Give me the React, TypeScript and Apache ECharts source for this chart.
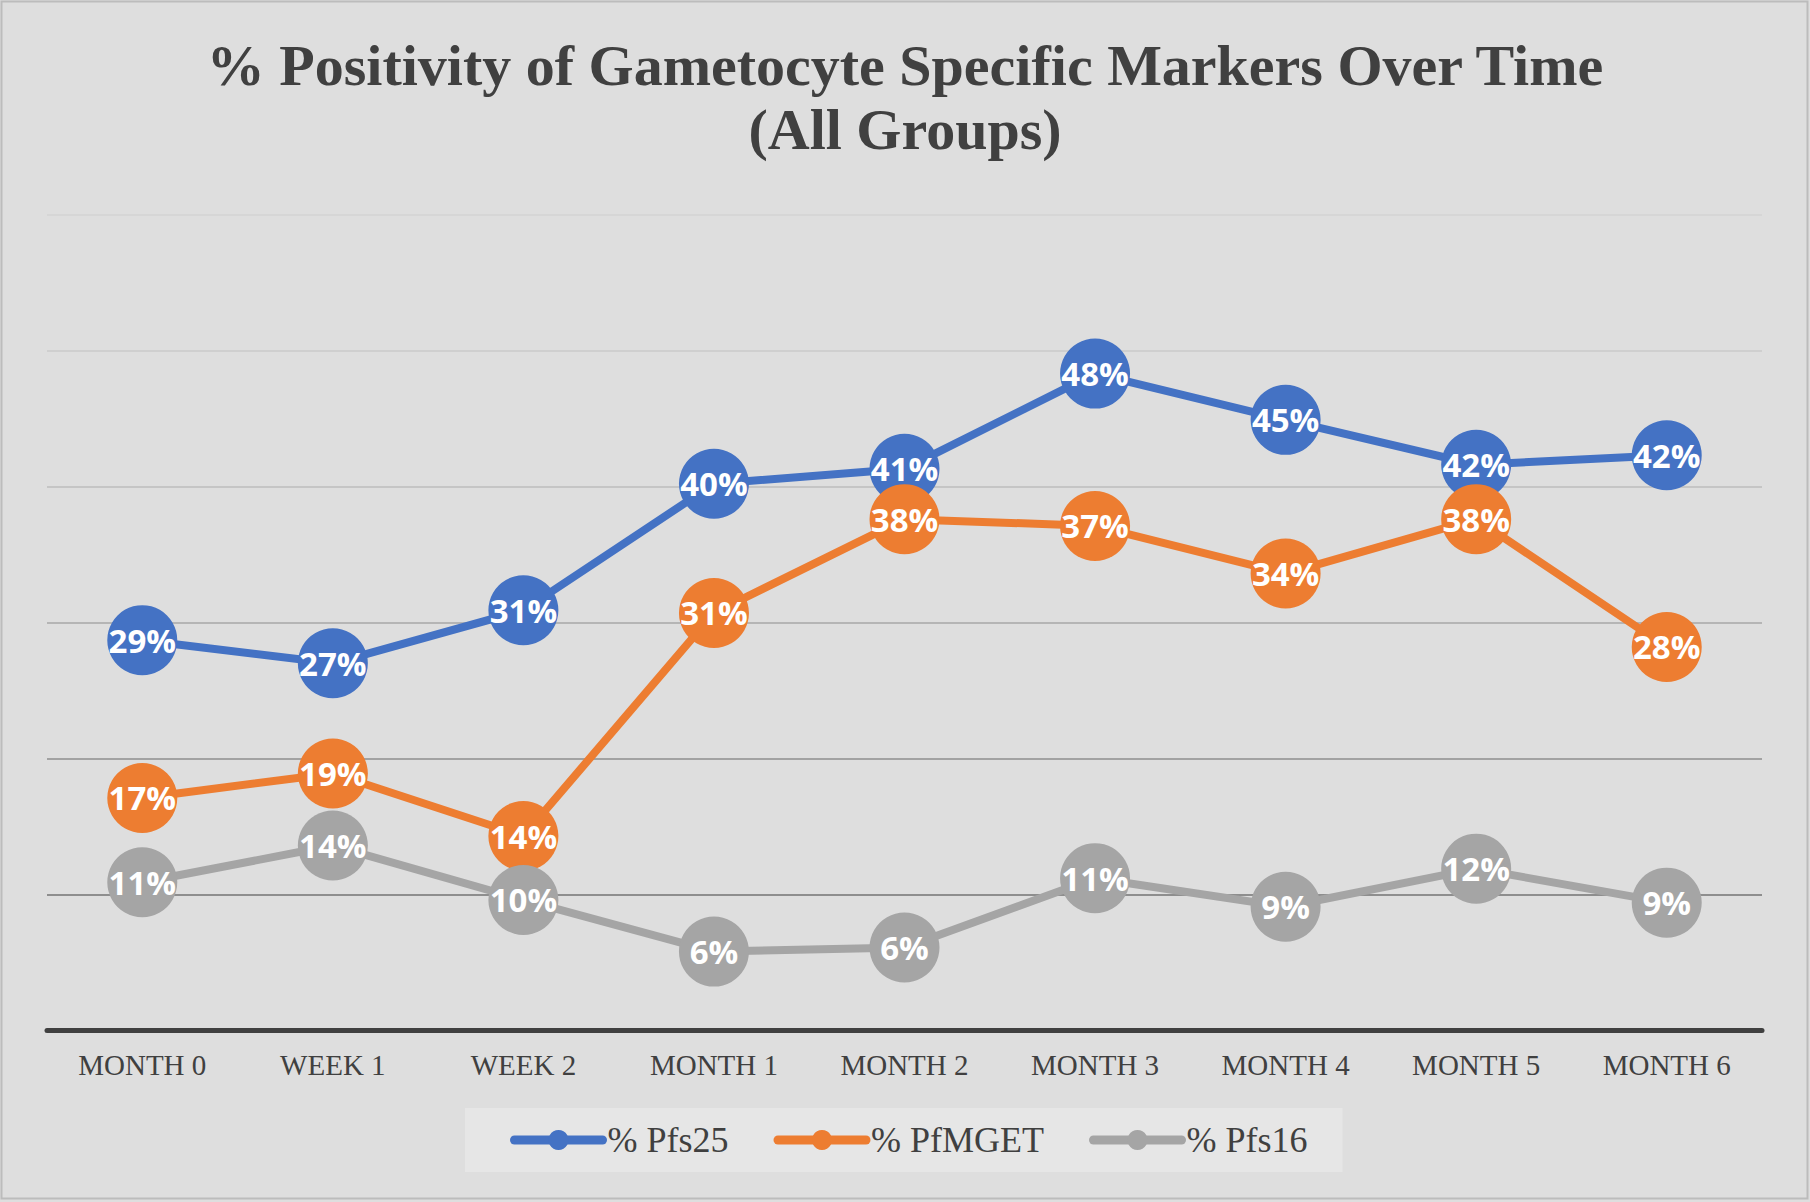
import React, { useEffect, useRef } from 'react';
import * as echarts from 'echarts';

const categories = ['MONTH 0', 'WEEK 1', 'WEEK 2', 'MONTH 1', 'MONTH 2', 'MONTH 3', 'MONTH 4', 'MONTH 5', 'MONTH 6'];
const pfs25 = [28.7, 27.0, 30.9, 40.2, 41.3, 48.3, 44.9, 41.6, 42.3];
const pfmget = [17.1, 18.9, 14.3, 30.7, 37.6, 37.1, 33.6, 37.6, 28.2];
const pfs16 = [10.9, 13.6, 9.6, 5.8, 6.1, 11.2, 9.1, 11.9, 9.4];
const seriesNames = ['% Pfs25', '% PfMGET', '% Pfs16'];
const seriesColors = ['#4472C4', '#ED7D31', '#A5A5A5'];
const yMin = 0;
const yMax = 60;
const yInterval = 10;
const gridColors = ['#404040', '#8e8e8e', '#a2a2a2', '#b5b5b5', '#c5c5c5', '#cfcfcf', '#d6d6d6'];
const titleText = '% Positivity of Gametocyte Specific Markers Over Time\n(All Groups)';

function makeSeries(name: string, data: number[], color: string) {
  return {
    name,
    type: 'line',
    data,
    symbol: 'circle',
    symbolSize: 70,
    lineStyle: { color, width: 8 },
    itemStyle: { color },
    label: {
      show: true,
      position: 'inside',
      formatter: (p: any) => Math.round(p.value) + '%',
      color: '#ffffff',
      fontFamily: 'Open Sans',
      fontWeight: 'bold',
      fontSize: 33,
    },
    emphasis: { disabled: true },
  };
}

export default function App() {
  const ref = useRef<HTMLDivElement>(null);
  useEffect(() => {
    if (!ref.current) return;
    const chart = echarts.init(ref.current, undefined, { renderer: 'svg' });
    chart.setOption({
      animation: false,
      backgroundColor: '#dedede',
      title: {
        text: titleText,
        left: 'center',
        top: 33,
        padding: 0,
        textStyle: {
          fontFamily: 'Liberation Serif',
          fontWeight: 'bold',
          fontSize: 58,
          lineHeight: 64,
          color: '#404040',
        },
      },
      grid: { left: 47, right: 48, top: 214.5, bottom: 171.5, containLabel: false },
      xAxis: {
        type: 'category',
        data: categories,
        boundaryGap: true,
        axisTick: { show: false },
        axisLine: { show: true, lineStyle: { color: '#404040', width: 5 } },
        axisLabel: {
          margin: 20,
          fontFamily: 'Liberation Serif',
          fontSize: 29,
          color: '#404040',
        },
        z: 5,
      },
      yAxis: {
        type: 'value',
        min: yMin,
        max: yMax,
        interval: yInterval,
        axisLabel: { show: false },
        axisLine: { show: false },
        axisTick: { show: false },
        splitLine: { show: true, lineStyle: { color: gridColors, width: 2 } },
      },
      legend: {
        left: 465,
        top: 1108,
        padding: [14, 35, 14, 45],
        backgroundColor: '#e6e6e6',
        itemWidth: 88,
        itemHeight: 25,
        itemGap: 45,
        textStyle: { fontFamily: 'Liberation Serif', fontSize: 36, color: '#404040' },
        lineStyle: { width: 9, cap: 'round' },
        data: seriesNames,
      },
      graphic: [
        {
          type: 'rect',
          shape: { x: 1.5, y: 1.5, width: 1806, height: 1197 },
          style: { fill: 'none', stroke: '#bcbcbc', lineWidth: 2 },
          silent: true,
        },
      ],
      series: [
        makeSeries(seriesNames[0], pfs25, seriesColors[0]),
        makeSeries(seriesNames[1], pfmget, seriesColors[1]),
        makeSeries(seriesNames[2], pfs16, seriesColors[2]),
      ],
    });
    return () => chart.dispose();
  }, []);
  return (
    <div
      ref={ref}
      style={{ position: 'fixed', left: 0, top: 0, width: 1810, height: 1202 }}
    />
  );
}
